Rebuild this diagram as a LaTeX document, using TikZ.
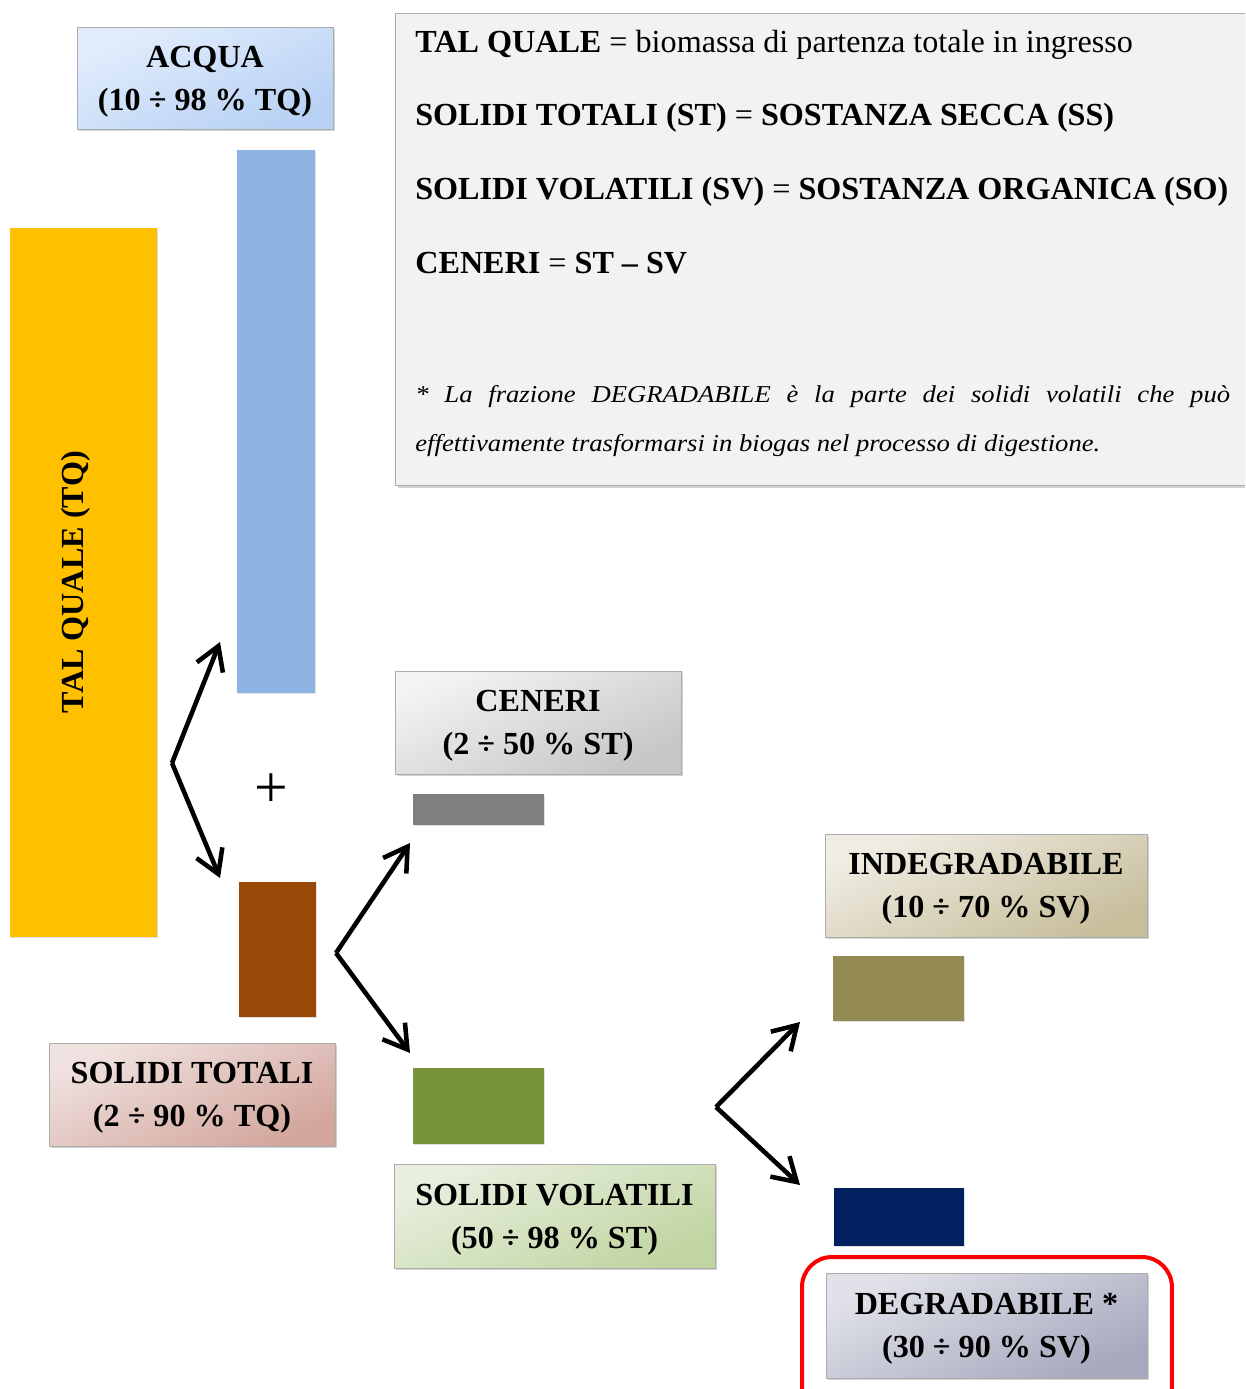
\documentclass[tikz,border=0pt]{standalone}
\usepackage{fontspec}
\setmainfont{Liberation Serif}
\newfontfamily\notefont{Liberation Serif}[FakeStretch=1.1]
\usepackage{xcolor}
\usetikzlibrary{arrows.meta,shadows}

% colours of the bars
\definecolor{tqyellow}{HTML}{FFC000}
\definecolor{h2oblue}{HTML}{8EB4E3}
\definecolor{stbrown}{HTML}{984807}
\definecolor{cegray}{HTML}{7F7F7F}
\definecolor{svgreen}{HTML}{77933C}
\definecolor{indolive}{HTML}{948A54}
\definecolor{degnavy}{HTML}{002060}
% colours of the label boxes (light, dark)
\definecolor{h2oA}{HTML}{E2EDFC}\definecolor{h2oB}{HTML}{B8D1F4}
\definecolor{ceA}{HTML}{F3F3F3}\definecolor{ceB}{HTML}{C6C6C6}
\definecolor{stA}{HTML}{F0E2E0}\definecolor{stB}{HTML}{D3A69C}
\definecolor{svA}{HTML}{E8EFDF}\definecolor{svB}{HTML}{C1D5A2}
\definecolor{indA}{HTML}{F0EDE4}\definecolor{indB}{HTML}{C7BE9C}
\definecolor{degA}{HTML}{E1E2E9}\definecolor{degB}{HTML}{A6A9BE}
\definecolor{panel}{HTML}{F2F2F2}

\tikzset{
  softshadow/.style={drop shadow={shadow xshift=1.3pt, shadow yshift=-1.3pt, opacity=0.35}},
  lbl/.style={draw=gray!65, line width=0.5pt, softshadow, align=center, inner sep=0pt,
    font=\bfseries\fontsize{18.3}{24.5}\selectfont, text depth=-1pt},
  grad/.style 2 args={top color=#1, bottom color=#2, shading angle=25},
  bar/.style={fill=#1, inner sep=0pt, drop shadow={shadow xshift=0.8pt, shadow yshift=-0.8pt, opacity=0.25}},
  branch/.style={line width=2.6pt, -{Straight Barb[length=4.6mm,width=5.6mm,line width=2.6pt]}}
}

\begin{document}
\begin{tikzpicture}[x=0.02cm, y=-0.02cm, font=\fontsize{18.3}{24.5}\selectfont]
  \useasboundingbox (0,0) rectangle (1245,1389);
  \clip (0,0) rectangle (1245,1389);

  % definitions panel
  \node[draw=gray!65, line width=0.5pt, fill=panel, softshadow, inner sep=0pt,
        minimum width=17.3cm, minimum height=9.44cm, anchor=north west] (panel) at (395,13) {};
  \node[anchor=base west, inner sep=0pt] (defTQ) at (415,53)
    {\textbf{TAL QUALE} = biomassa di partenza totale in ingresso};
  \node[anchor=base west, inner sep=0pt] (defST) at (415,126)
    {\textbf{SOLIDI TOTALI (ST)} = \textbf{SOSTANZA SECCA (SS)}};
  \node[anchor=base west, inner sep=0pt] (defSV) at (415,199)
    {\textbf{SOLIDI VOLATILI (SV)} = \textbf{SOSTANZA ORGANICA (SO)}};
  \node[anchor=base west, inner sep=0pt] (defCE) at (415,273)
    {\textbf{CENERI} = \textbf{ST – SV}};
  \node[anchor=north west, inner sep=0pt, text width=16.3cm, align=justify,
        font=\notefont\itshape\fontsize{13.8}{27.8}\selectfont] (note) at (415,385)
    {* La frazione DEGRADABILE è la parte dei solidi volatili che può\linebreak
     effettivamente trasformarsi in biogas nel processo di digestione.};

  % tal quale and its two parts
  \node[bar=tqyellow, minimum width=2.94cm, minimum height=14.18cm] (tq) at (83.5,582.5) {};
  \node[rotate=90, font=\bfseries\fontsize{18.3}{20}\selectfont] (tqtxt) at (76,582) {TAL QUALE (TQ)};

  \node[bar=h2oblue, minimum width=1.56cm, minimum height=10.86cm] (h2o) at (276,421.5) {};
  \node[lbl, grad={h2oA}{h2oB}, minimum width=5.12cm, minimum height=2.04cm] (h2olbl) at (205,78)
    {ACQUA\\(10 ÷ 98 \% TQ)};

  \node[bar=stbrown, minimum width=1.54cm, minimum height=2.7cm] (st) at (277.5,949.5) {};
  \node[lbl, grad={stA}{stB}, minimum width=5.72cm, minimum height=2.06cm] (stlbl) at (192,1094.5)
    {SOLIDI TOTALI\\(2 ÷ 90 \% TQ)};

  \node[font=\fontsize{34}{34}\selectfont] (plus) at (271,791) {+};

  % solidi totali split
  \node[bar=cegray, minimum width=2.62cm, minimum height=0.62cm] (ce) at (478.5,809.5) {};
  \node[lbl, grad={ceA}{ceB}, minimum width=5.72cm, minimum height=2.06cm] (celbl) at (538,722.5)
    {CENERI\\(2 ÷ 50 \% ST)};

  \node[bar=svgreen, minimum width=2.62cm, minimum height=1.52cm] (sv) at (478.5,1106) {};
  \node[lbl, grad={svA}{svB}, minimum width=6.42cm, minimum height=2.08cm] (svlbl) at (554.5,1216)
    {SOLIDI VOLATILI\\(50 ÷ 98 \% ST)};

  % solidi volatili split
  \node[bar=indolive, minimum width=2.62cm, minimum height=1.3cm] (ind) at (898.5,988.5) {};
  \node[lbl, grad={indA}{indB}, minimum width=6.44cm, minimum height=2.06cm] (indlbl) at (986,885.5)
    {INDEGRADABILE\\(10 ÷ 70 \% SV)};

  \node[bar=degnavy, minimum width=2.6cm, minimum height=1.16cm] (deg) at (899,1217) {};
  \node[lbl, grad={degA}{degB}, minimum width=6.42cm, minimum height=2.1cm] (deglbl) at (986.5,1325.5)
    {DEGRADABILE *\\(30 ÷ 90 \% SV)};
  \node[draw=red, line width=0.08cm, rounded corners=0.6cm, inner sep=0pt,
        minimum width=7.4cm, minimum height=3.6cm, anchor=north west] (mark) at (800,1255) {};

  % branching arrows
  \coordinate (forkTQ) at (172,763);
  \coordinate (toH2O) at (220,642);
  \coordinate (toST) at (220,878);
  \coordinate (forkST) at (336,953);
  \coordinate (toCE) at (410,843);
  \coordinate (toSV) at (410,1053);
  \coordinate (forkSV) at (716,1107);
  \coordinate (toIND) at (800,1022);
  \coordinate (toDEG) at (800,1185);

  \draw[branch] (forkTQ) -- (toH2O);
  \draw[branch] (forkTQ) -- (toST);
  \draw[branch] (forkST) -- (toCE);
  \draw[branch] (forkST) -- (toSV);
  \draw[branch] (forkSV) -- (toIND);
  \draw[branch] (forkSV) -- (toDEG);
\end{tikzpicture}
\end{document}
